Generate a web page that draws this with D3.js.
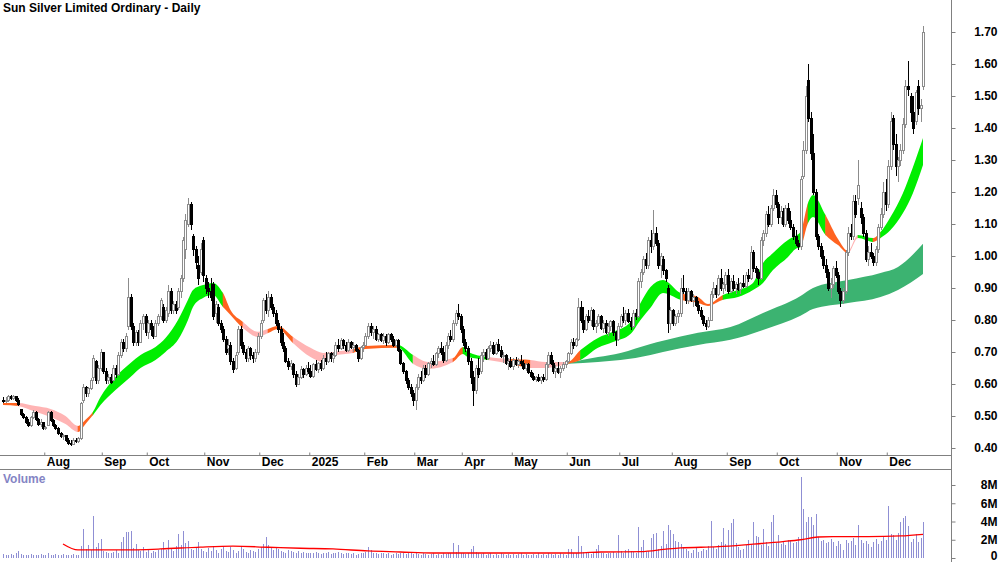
<!DOCTYPE html>
<html>
<head>
<meta charset="utf-8">
<title>Sun Silver Limited Ordinary - Daily</title>
<script src="https://cdnjs.cloudflare.com/ajax/libs/d3/7.8.5/d3.min.js"></script>
<style>
  body { margin: 0; background: #fff; }
  text { font-family: "Liberation Sans Narrow", "Liberation Sans", Arial, sans-serif; font-weight: bold; font-size: 12px; fill: #000; }
</style>
</head>
<body>
<div id="chart"></div>
<script>
// daily candles [open, high, low, close], Jul 2024 - Dec 2025
var ohlc = [
  // Jul 2024
  [.55,.56,.54,.545],[.545,.56,.54,.55],[.55,.565,.545,.56],[.56,.565,.55,.555],[.555,.565,.55,.56],[.56,.56,.545,.55],
  [.55,.555,.53,.535],[.52,.52,.50,.505],[.505,.51,.49,.495],[.495,.50,.475,.48],[.48,.49,.465,.47],[.47,.50,.465,.495],
  [.495,.52,.49,.51],[.51,.515,.485,.49],[.49,.495,.47,.475],[.475,.49,.465,.48],[.48,.48,.455,.46],
  // Aug
  [.46,.47,.455,.465],[.47,.515,.47,.51],[.51,.515,.48,.485],[.485,.49,.465,.47],[.47,.475,.455,.46],[.46,.465,.44,.445],
  [.445,.45,.43,.435],[.435,.445,.425,.44],[.44,.44,.42,.425],[.425,.43,.41,.415],[.415,.425,.405,.41],[.41,.43,.41,.425],
  [.425,.43,.415,.42],[.42,.435,.415,.43],[.43,.545,.425,.54],[.55,.60,.54,.59],[.59,.595,.56,.57],[.57,.59,.56,.585],
  [.585,.62,.58,.61],[.62,.69,.61,.68],[.67,.675,.60,.61],[.61,.66,.60,.65],[.65,.71,.64,.70],
  // Sep
  [.70,.70,.63,.64],[.64,.65,.60,.61],[.61,.63,.60,.62],[.62,.63,.60,.605],[.61,.66,.61,.65],[.65,.66,.62,.63],
  [.63,.70,.625,.69],[.69,.74,.68,.73],[.73,.74,.70,.71],[.71,.76,.70,.75],[.78,.93,.77,.87],[.87,.88,.77,.78],
  [.78,.79,.72,.73],[.73,.77,.72,.76],[.76,.77,.72,.73],[.73,.80,.73,.79],[.79,.82,.77,.81],[.81,.82,.75,.76],
  // Oct
  [.76,.80,.74,.79],[.79,.80,.75,.77],[.77,.78,.74,.75],[.75,.80,.75,.79],[.79,.82,.78,.81],[.81,.87,.80,.86],
  [.84,.85,.79,.80],[.80,.84,.79,.83],[.82,.91,.81,.89],[.89,.90,.82,.83],[.83,.86,.82,.85],[.85,.86,.82,.83],
  [.84,.90,.83,.89],[.89,.94,.87,.93],[.93,1.06,.92,1.05],[1.02,1.13,.99,1.11],[1.10,1.18,1.09,1.16],[1.16,1.17,1.08,1.10],
  [1.06,1.07,1.00,1.02],[1.02,1.03,.96,.98],[.97,1.00,.91,.93],[.95,1.04,.94,1.02],[1.05,1.06,.92,.94],
  // Nov
  [.93,.94,.88,.90],[.90,.92,.87,.89],[.89,.93,.86,.87],[.91,.92,.80,.81],[.82,.86,.79,.85],[.84,.85,.78,.79],
  [.79,.80,.76,.77],[.77,.78,.73,.74],[.74,.75,.69,.70],[.71,.74,.69,.72],[.72,.73,.66,.67],[.67,.68,.635,.645],
  [.65,.70,.645,.69],[.70,.78,.69,.77],[.77,.78,.71,.72],[.72,.73,.69,.70],[.70,.71,.67,.68],[.68,.72,.67,.71],
  [.71,.715,.675,.69],[.69,.70,.665,.68],[.68,.71,.67,.70],[.70,.76,.69,.75],
  // Dec
  [.75,.80,.74,.79],[.80,.87,.79,.86],[.86,.88,.82,.83],[.83,.89,.81,.87],[.87,.88,.83,.84],[.84,.85,.81,.82],
  [.82,.83,.78,.79],[.79,.80,.76,.77],[.77,.78,.72,.73],[.73,.76,.70,.71],[.71,.72,.665,.67],[.67,.68,.645,.655],
  [.655,.675,.645,.665],[.66,.665,.62,.63],[.63,.64,.59,.60],[.60,.63,.60,.62],[.62,.655,.615,.645],[.645,.65,.62,.63],
  [.63,.66,.625,.65],[.65,.67,.63,.64],
  // Jan 2025
  [.64,.66,.62,.625],[.625,.665,.62,.66],[.66,.675,.64,.645],[.645,.67,.635,.665],[.665,.675,.64,.65],[.65,.69,.645,.68],
  [.68,.70,.66,.67],[.67,.70,.665,.695],[.695,.70,.67,.68],[.68,.70,.665,.69],[.69,.73,.685,.72],[.72,.74,.70,.71],
  [.71,.745,.705,.735],[.735,.74,.71,.72],[.72,.73,.70,.705],[.705,.74,.70,.73],[.73,.735,.71,.715],[.715,.73,.70,.72],
  [.72,.725,.70,.705],[.705,.71,.67,.68],[.68,.72,.675,.715],[.715,.73,.70,.72],
  // Feb
  [.72,.76,.72,.75],[.75,.79,.74,.78],[.78,.79,.75,.76],[.76,.78,.74,.77],[.77,.78,.735,.74],[.74,.76,.73,.755],
  [.755,.76,.73,.735],[.735,.76,.725,.75],[.75,.755,.72,.73],[.73,.76,.725,.755],[.755,.76,.73,.74],[.74,.75,.715,.72],
  [.72,.74,.715,.735],[.735,.74,.70,.705],[.705,.71,.66,.665],[.665,.67,.63,.64],[.64,.645,.60,.61],[.61,.62,.58,.59],
  [.59,.60,.56,.57],[.57,.58,.53,.55],
  // Mar
  [.55,.60,.52,.59],[.59,.63,.58,.62],[.62,.64,.60,.61],[.61,.66,.605,.65],[.65,.66,.62,.63],[.63,.67,.625,.665],
  [.665,.68,.65,.67],[.67,.69,.655,.66],[.66,.70,.655,.695],[.695,.72,.68,.71],[.71,.73,.69,.70],[.70,.72,.665,.675],
  [.675,.73,.67,.72],[.72,.76,.71,.75],[.75,.77,.73,.74],[.74,.80,.73,.79],[.79,.83,.78,.82],[.82,.85,.80,.81],
  [.81,.82,.76,.77],
  // Apr
  [.77,.78,.72,.73],[.73,.74,.70,.71],[.71,.72,.66,.67],[.67,.68,.60,.62],[.62,.64,.53,.58],[.58,.66,.57,.65],
  [.65,.68,.62,.63],[.64,.70,.63,.69],[.69,.71,.67,.70],[.70,.71,.675,.68],[.68,.72,.675,.71],[.71,.735,.70,.72],
  [.72,.73,.69,.695],[.695,.73,.69,.725],[.725,.74,.70,.705],[.705,.72,.68,.685],[.685,.70,.665,.69],[.69,.695,.66,.665],
  [.665,.68,.645,.67],[.67,.685,.65,.655],
  // May
  [.655,.68,.645,.675],[.675,.685,.655,.66],[.66,.68,.65,.67],[.67,.69,.655,.665],[.665,.675,.645,.65],[.65,.665,.64,.66],
  [.66,.665,.63,.635],[.635,.645,.62,.625],[.625,.635,.61,.615],[.615,.625,.605,.62],[.62,.63,.605,.61],[.61,.625,.60,.62],
  [.62,.63,.605,.615],[.615,.67,.61,.66],[.66,.70,.65,.69],[.69,.70,.66,.665],[.665,.675,.63,.64],[.64,.66,.62,.65],
  [.65,.67,.63,.635],[.635,.655,.62,.65],[.65,.67,.64,.66],[.66,.675,.65,.67],
  // Jun
  [.67,.70,.665,.695],[.695,.74,.69,.73],[.73,.745,.71,.72],[.72,.745,.715,.74],[.74,.87,.735,.84],[.84,.86,.79,.80],
  [.80,.84,.76,.77],[.77,.82,.765,.81],[.81,.83,.79,.80],[.80,.84,.78,.83],[.83,.835,.77,.78],[.78,.80,.76,.79],
  [.79,.82,.78,.81],[.81,.815,.77,.775],[.775,.80,.76,.79],[.79,.80,.755,.76],[.76,.79,.75,.78],[.78,.80,.765,.795],
  [.795,.80,.75,.76],[.76,.765,.72,.74],[.74,.79,.735,.78],
  // Jul
  [.78,.82,.775,.81],[.81,.84,.79,.80],[.80,.83,.785,.82],[.82,.835,.79,.795],[.795,.81,.77,.78],[.78,.83,.775,.82],
  [.82,.835,.80,.81],[.81,.93,.805,.92],[.92,.96,.90,.95],[.95,1.00,.94,.99],[.99,1.01,.96,.97],[.97,1.06,.96,1.05],
  [1.05,1.08,1.01,1.03],[1.03,1.145,1.02,1.07],[1.07,1.09,1.03,1.04],[1.04,1.05,.96,.97],[.97,1.01,.93,1.00],[.99,1.00,.94,.955],
  [.955,.96,.92,.93],[.90,.91,.76,.79],[.79,.84,.77,.83],
  // Aug
  [.83,.835,.78,.79],[.79,.82,.78,.81],[.81,.83,.79,.82],[.82,.93,.81,.90],[.90,.94,.88,.89],[.89,.90,.85,.86],
  [.86,.90,.85,.89],[.89,.895,.855,.86],[.86,.88,.84,.87],[.87,.875,.84,.845],[.845,.86,.82,.83],[.83,.84,.80,.81],
  [.81,.815,.78,.79],[.79,.80,.77,.78],[.78,.81,.775,.80],[.80,.89,.80,.88],[.88,.92,.87,.90],[.90,.91,.87,.88],
  [.88,.94,.875,.93],[.93,.96,.89,.90],[.90,.92,.88,.91],[.91,.95,.89,.94],
  // Sep
  [.94,.96,.88,.89],[.89,.93,.885,.92],[.92,.94,.89,.90],[.90,.92,.88,.91],[.91,.93,.89,.895],[.895,.92,.88,.915],
  [.915,.94,.90,.905],[.905,.95,.90,.94],[.94,.96,.92,.93],[.93,1.03,.925,1.01],[1.01,1.02,.95,.96],[.96,.97,.93,.95],
  [.95,.96,.91,.93],[.93,1.06,.925,1.05],[1.05,1.08,1.03,1.07],[1.07,1.14,1.06,1.13],[1.13,1.155,1.09,1.10],[1.10,1.16,1.09,1.15],
  [1.15,1.21,1.14,1.19],[1.19,1.205,1.15,1.16],
  // Oct
  [1.16,1.17,1.10,1.12],[1.12,1.155,1.10,1.14],[1.14,1.15,1.09,1.10],[1.10,1.16,1.09,1.15],[1.15,1.165,1.10,1.11],[1.11,1.14,1.08,1.09],
  [1.09,1.10,1.05,1.06],[1.06,1.08,1.03,1.04],[1.04,1.05,1.02,1.03],[1.03,1.25,1.02,1.24],[1.25,1.36,1.24,1.33],[1.33,1.53,1.32,1.50],
  [1.55,1.60,1.42,1.43],[1.43,1.45,1.30,1.32],[1.32,1.38,1.19,1.20],[1.20,1.21,1.05,1.06],[1.06,1.07,1.02,1.03],[1.03,1.04,.99,1.00],
  [1.00,1.02,.96,.97],[.97,.99,.93,.95],[.95,.96,.89,.90],[.90,.93,.87,.91],[.91,.97,.90,.96],[.96,.985,.93,.94],
  // Nov
  [.94,.95,.88,.89],[.89,.90,.84,.86],[.86,.90,.85,.89],[.89,1.02,.88,1.01],[1.01,1.09,1.00,1.07],[1.07,1.10,1.05,1.06],
  [1.06,1.19,1.05,1.17],[1.17,1.19,1.12,1.13],[1.18,1.30,1.16,1.22],[1.15,1.17,1.10,1.12],[1.12,1.13,1.06,1.07],[1.07,1.08,.98,.99],
  [.99,1.03,.97,1.01],[1.01,1.04,.99,1.00],[1.00,1.01,.97,.98],[.98,1.03,.97,1.02],[1.02,1.10,1.01,1.09],[1.09,1.15,1.08,1.13],
  [1.13,1.23,1.12,1.20],[1.20,1.24,1.14,1.16],
  // Dec
  [1.16,1.30,1.15,1.28],[1.28,1.45,1.27,1.42],[1.43,1.44,1.33,1.35],[1.35,1.38,1.25,1.28],[1.28,1.31,1.23,1.30],[1.30,1.35,1.28,1.33],
  [1.33,1.43,1.32,1.41],[1.41,1.55,1.40,1.53],[1.53,1.61,1.50,1.52],[1.50,1.51,1.42,1.45],[1.45,1.50,1.38,1.40],[1.42,1.52,1.41,1.51],
  [1.53,1.55,1.44,1.46],[1.46,1.49,1.42,1.47],[1.53,1.72,1.52,1.70]
];

// daily volume, millions of shares
var volume = [
  .4,.3,.35,.4,.3,.5,.8,.4,.3,.35,.3,.4,.3,.35,.3,.4,.3,
  .35,.5,.3,.3,.4,.35,.3,.4,.3,.35,.3,.4,.35,.3,
  1.3,3.2,1.0,1.4,.9,4.65,1.2,1.6,2.1,.8,
  .7,.6,.5,.7,.9,.6,1.8,2.3,2.8,2.9,3.0,1.1,1.5,.9,.8,1.2,.7,.9,.6,.8,
  .7,.9,1.0,1.8,.9,2.0,1.1,.8,1.3,2.6,1.4,3.0,1.6,1.9,1.0,.9,1.2,1.8,1.0,.8,
  .7,1.1,.8,1.2,.9,.6,1.0,1.3,.8,.7,1.2,.9,.6,.8,1.3,1.0,.7,.6,.9,.8,
  .7,1.0,1.2,1.5,2.3,1.4,1.1,.9,1.2,1.0,.8,.7,.6,.9,.8,.7,.5,.8,.6,.7,.5,.6,
  .5,.6,.7,.5,.4,.6,.5,.7,.4,.5,.6,.7,.5,.4,.5,.6,.4,.5,.3,.4,.5,.6,
  .7,1.2,.9,.6,.5,.4,.6,.5,.4,.5,.3,.4,.5,.4,.6,.5,.4,.5,.6,.4,
  .5,.4,.3,.5,.4,.3,.4,.5,.3,.4,.3,.5,.4,.6,.5,1.6,.7,1.4,.6,.5,
  .4,.6,1.0,1.3,.7,.5,.4,.6,.3,.4,.5,.3,.4,.3,.5,.4,.3,.4,.3,.4,
  .3,.4,.5,.3,.4,.3,.35,.4,.3,.5,.3,.4,.3,.6,.4,.3,.4,.3,.5,.4,.3,
  1.0,1.0,.6,.5,2.4,1.3,.7,.5,.6,.4,.5,1.0,1.4,.6,.5,.4,.6,.5,.7,.6,2.5,.8,
  .6,.9,1.0,.8,.7,.6,3.4,1.2,2.0,.7,.8,2.2,2.6,2.7,1.0,1.3,3.0,1.5,3.6,3.1,
  2.6,1.9,1.7,1.5,1.2,1.0,.8,.6,.9,1.1,.7,.8,1.0,.9,1.3,4.1,1.2,1.0,1.4,1.8,3.3,1.5,
  3.1,3.8,4.3,1.6,1.2,.9,1.0,1.4,2.0,1.5,3.9,2.4,2.3,1.4,3.2,1.8,1.3,3.9,4.7,1.6,2.5,
  1.5,1.8,1.4,2.0,1.9,1.6,1.8,2.3,8.9,5.4,3.9,4.5,4.5,3.6,4.8,2.3,1.9,2.0,1.6,1.8,2.1,1.7,1.3,
  1.9,1.5,.9,2.0,1.6,1.9,2.2,1.4,3.6,2.0,1.6,1.9,1.5,1.2,1.7,2.1,1.5,1.9,2.3,2.0,
  5.75,2.6,2.5,2.0,2.7,4.0,4.4,4.6,3.5,1.7,2.1,2.6,1.8,2.2,3.9
];

// volume moving average (read at sample days)
var vmaIdx = [24,30,47,63,79,92,106,119,132,146,159,172,199,230,239,255,266,271,286,299,312,319,326,332,346,359,368];
var vmaVal = [1.54,.88,.88,.99,1.2,1.3,1.18,1.07,.99,.77,.66,.55,.55,.55,.66,.69,.99,1.1,1.24,1.5,1.8,2.0,2.3,2.34,2.34,2.42,2.6];

// short-term ribbon (top / bottom price at sample days) and colour of each stretch
var ribIdx = [0,6,13,19,25,30,33,36,39,45,51,55,61,65,70,74,76,80,84,88,91,96,102,106,110,116,123,128,132,140,
  145,158,164,170,180,184,186,194,203,211,217,226,231,238,244,251,255,259,264,271,278,282,288,294,300,304,308,314,317,319,
  322,324,329,334,338,342,348,351,355,360,364,368];
var ribTop = [.541,.541,.531,.522,.500,.469,.488,.513,.559,.622,.666,.691,.716,.744,.800,.863,.894,.909,.916,.884,
  .831,.794,.763,.772,.781,.747,.713,.697,.700,.709,.719,.722,.691,.669,.681,.716,.700,.684,.678,.675,
  .669,.669,.706,.744,.763,.794,.853,.903,.925,.884,.872,.850,.878,.894,.916,.978,1.009,1.050,1.063,1.075,
  1.166,1.191,1.128,1.053,1.016,1.066,1.056,1.075,1.122,1.197,1.278,1.369];
var ribBot = [.534,.531,.513,.497,.475,.450,.475,.503,.534,.581,.622,.650,.675,.700,.738,.800,.841,.869,.878,.841,
  .816,.775,.747,.759,.772,.728,.684,.669,.688,.697,.709,.713,.663,.647,.669,.694,.684,.675,.663,.650,
  .650,.663,.675,.713,.731,.756,.800,.838,.884,.863,.853,.844,.863,.872,.894,.916,.956,.997,1.022,1.028,
  1.103,1.122,1.066,1.034,1.009,1.056,1.044,1.056,1.081,1.134,1.197,1.284];
var ribColor = "oppppooggggggggggggooppooppppoogppoggpoppogggggggooogggggggoggoopgoggggg";

// long-term ribbon
var ltIdx = [226,238,247,259,264,278,291,304,319,324,338,351,358,368];
var ltTop = [.666,.684,.697,.725,.735,.760,.778,.822,.875,.900,.925,.947,.966,1.038];
var ltBot = [.663,.669,.675,.691,.700,.722,.738,.769,.813,.834,.853,.872,.894,.944];

var monthLabels = ["Aug","Sep","Oct","Nov","Dec","2025","Feb","Mar","Apr","May","Jun","Jul","Aug","Sep","Oct","Nov","Dec"];
var monthStart = [17,40,58,81,103,123,145,165,184,204,226,247,268,290,310,334,354];
var priceTicks = [.4,.5,.6,.7,.8,.9,1.0,1.1,1.2,1.3,1.4,1.5,1.6,1.7];
var volTicks = [0,2,4,6,8];

var colors = { g: "#00ee00", o: "#ff6320", p: "#ffb4b4" };

var width = 1000, height = 562, axisX = 951;

var x = d3.scaleLinear().domain([0, ohlc.length - 1]).range([3, 923]);
var y = d3.scaleLinear().domain([0.4, 1.7]).range([448, 32]);
var yv = d3.scaleLinear().domain([0, 8]).range([558, 485]);

var svg = d3.select("#chart").append("svg")
  .attr("width", width)
  .attr("height", height)
  .style("display", "block");

// ribbons
var ribbon = ribIdx.map(function(d, k) { return { i: d, t: ribTop[k], b: ribBot[k] }; });
var area = d3.area()
  .x(function(d) { return x(d.i); })
  .y0(function(d) { return y(d.b); })
  .y1(function(d) { return y(d.t); })
  .curve(d3.curveMonotoneX);

var runs = [];
for (var k = 0; k < ribIdx.length - 1; k++) {
  var c = ribColor[k];
  if (runs.length && runs[runs.length - 1].c === c) runs[runs.length - 1].end = k + 1;
  else runs.push({ c: c, start: k, end: k + 1 });
}

var defs = svg.append("defs");
runs.forEach(function(r, j) {
  defs.append("clipPath").attr("id", "rib" + j)
    .append("rect")
    .attr("x", x(ribIdx[r.start]) - (j === 0 ? 5 : 0.3))
    .attr("width", x(ribIdx[r.end]) - x(ribIdx[r.start]) + 0.6 + (j === 0 ? 5 : 0))
    .attr("y", 0).attr("height", 460);
});

var ltData = ltIdx.map(function(d, k) { return { i: d, t: ltTop[k], b: ltBot[k] }; });
svg.append("path")
  .attr("d", area(ltData))
  .attr("fill", "#3cb371");

svg.append("g").selectAll("path")
  .data(runs)
  .join("path")
  .attr("d", area(ribbon))
  .attr("clip-path", function(d, j) { return "url(#rib" + j + ")"; })
  .attr("fill", function(d) { return colors[d.c]; });

// candles
var candle = svg.append("g")
  .attr("shape-rendering", "crispEdges")
  .selectAll("g")
  .data(ohlc)
  .join("g");

function isUp(d) { return d[3] >= d[0]; }

candle.append("line")
  .attr("x1", function(d, i) { return Math.round(x(i)) + 0.5; })
  .attr("x2", function(d, i) { return Math.round(x(i)) + 0.5; })
  .attr("y1", function(d) { return y(Math.max(d[1], d[0], d[3])); })
  .attr("y2", function(d) { return y(Math.min(d[2], d[0], d[3])); })
  .attr("stroke", function(d) { return isUp(d) ? "#8c8c8c" : "#000"; });

candle.append("rect")
  .attr("x", function(d, i) { return Math.round(x(i)) - 0.5; })
  .attr("width", 2)
  .attr("y", function(d) { return y(Math.max(d[0], d[3])); })
  .attr("height", function(d) { return Math.max(1, Math.abs(y(d[0]) - y(d[3]))); })
  .attr("fill", function(d) { return isUp(d) ? "#fff" : "#000"; })
  .attr("stroke", function(d) { return isUp(d) ? "#8c8c8c" : "#000"; })
  .attr("stroke-width", 1);

// volume
svg.append("g")
  .attr("shape-rendering", "crispEdges")
  .selectAll("rect")
  .data(volume)
  .join("rect")
  .attr("x", function(d, i) { return Math.round(x(i)); })
  .attr("width", 1)
  .attr("y", function(d) { return yv(d); })
  .attr("height", function(d) { return yv(0) - yv(d); })
  .attr("fill", "#8f8fd4");

var vma = d3.line()
  .x(function(d, k) { return x(vmaIdx[k]); })
  .y(function(d) { return yv(d); })
  .curve(d3.curveMonotoneX);

svg.append("path")
  .attr("d", vma(vmaVal))
  .attr("fill", "none")
  .attr("stroke", "#ff0000")
  .attr("stroke-width", 1.3);

// frame lines
svg.append("line").attr("x1", axisX + 0.5).attr("x2", axisX + 0.5).attr("y1", 0).attr("y2", height)
  .attr("stroke", "#808080");
svg.append("line").attr("x1", 0).attr("x2", axisX).attr("y1", 455.5).attr("y2", 455.5)
  .attr("stroke", "#808080");
svg.append("line").attr("x1", 0).attr("x2", axisX).attr("y1", 469.5).attr("y2", 469.5)
  .attr("stroke", "#808080");

// month axis
var gm = svg.append("g")
  .attr("class", "axis")
  .attr("transform", "translate(-1.25,455.5)")
  .call(d3.axisBottom(x)
    .tickValues(monthStart)
    .tickSize(-3)
    .tickPadding(2)
    .tickFormat(function(d, k) { return monthLabels[k]; }));
gm.select(".domain").remove();
gm.selectAll(".tick line").attr("stroke", "#808080");
gm.selectAll(".tick text").attr("text-anchor", "start").attr("x", 2);

// price axis
var gp = svg.append("g")
  .attr("class", "axis")
  .attr("transform", "translate(" + (axisX + 0.5) + ",0)")
  .call(d3.axisRight(y).tickValues(priceTicks).tickSize(4).tickFormat(d3.format(".2f")));
gp.select(".domain").remove();
gp.selectAll(".tick line").attr("stroke", "#808080");
gp.selectAll(".tick text").attr("text-anchor", "end").attr("x", 46);

// volume axis
var gv = svg.append("g")
  .attr("class", "axis")
  .attr("transform", "translate(" + (axisX + 0.5) + ",0)")
  .call(d3.axisRight(yv).tickValues(volTicks).tickSize(4)
    .tickFormat(function(d) { return d ? d + "M" : "0"; }));
gv.select(".domain").remove();
gv.selectAll(".tick line").attr("stroke", "#808080");
gv.selectAll(".tick text").attr("text-anchor", "end").attr("x", 46)
  .attr("dy", function(d) { return d ? "0.32em" : "0.1em"; });

// titles
svg.append("text")
  .attr("x", 3).attr("y", 12)
  .text("Sun Silver Limited Ordinary - Daily");

svg.append("text")
  .attr("x", 3).attr("y", 483)
  .style("fill", "#8484c4")
  .text("Volume");
</script>
</body>
</html>
